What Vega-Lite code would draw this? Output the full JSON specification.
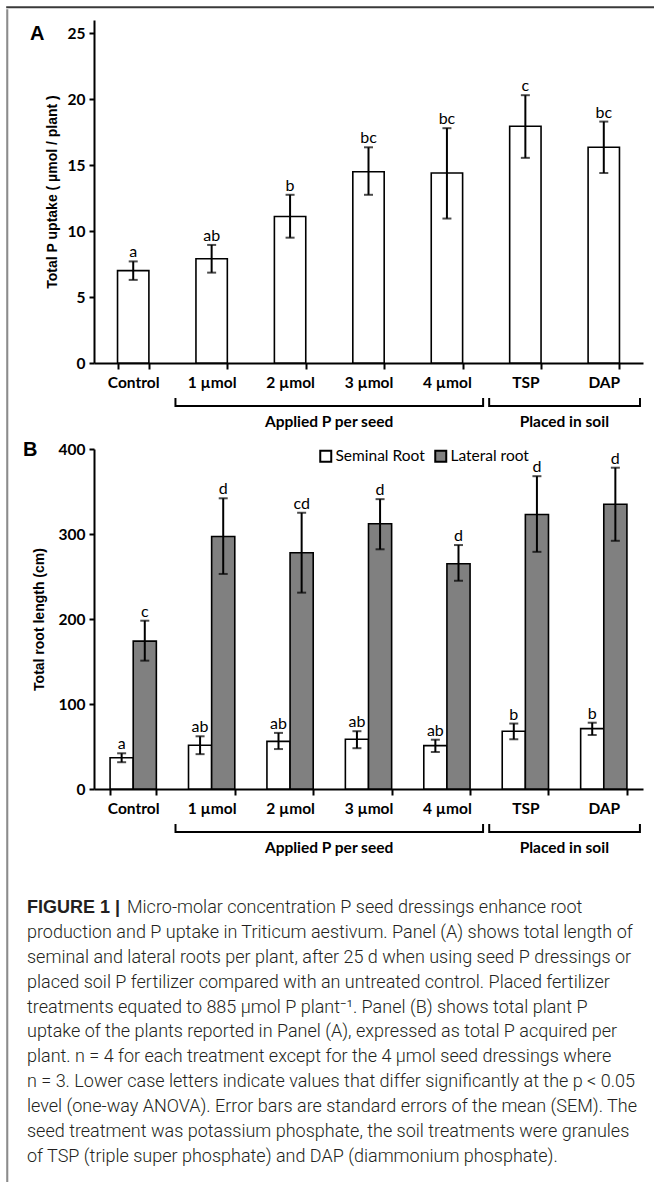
{
  "$schema": "https://vega.github.io/schema/vega-lite/v6.json",
  "background": "white",
  "padding": {"left": 6, "top": 6, "right": 0, "bottom": 0},
  "config": {
    "view": {"stroke": null},
    "font": "Lato",
    "axis": {"domainColor": "black", "tickColor": "black", "labelColor": "black", "titleColor": "black", "domainWidth": 2, "tickWidth": 2, "grid": false, "labelFont": "Lato", "labelFontWeight": "bold", "labelFontSize": 15.5, "titleFont": "Liberation Sans", "titleFontWeight": "bold", "titleFontSize": 14}
  },
  "datasets": {
    "uptake": [
      {"treatment": "Control", "uptake": 7.0, "lo": 6.3, "hi": 7.7, "letter": "a"},
      {"treatment": "1 µmol", "uptake": 7.9, "lo": 6.85, "hi": 8.95, "letter": "ab"},
      {"treatment": "2 µmol", "uptake": 11.1, "lo": 9.5, "hi": 12.75, "letter": "b"},
      {"treatment": "3 µmol", "uptake": 14.5, "lo": 12.75, "hi": 16.35, "letter": "bc"},
      {"treatment": "4 µmol", "uptake": 14.4, "lo": 10.95, "hi": 17.8, "letter": "bc"},
      {"treatment": "TSP", "uptake": 17.95, "lo": 15.55, "hi": 20.3, "letter": "c"},
      {"treatment": "DAP", "uptake": 16.35, "lo": 14.4, "hi": 18.3, "letter": "bc"}
    ],
    "roots": [
      {"treatment": "Control", "root": "Seminal Root", "length": 36.8, "lo": 31.5, "hi": 42, "letter": "a"},
      {"treatment": "1 µmol", "root": "Seminal Root", "length": 51.5, "lo": 41, "hi": 62, "letter": "ab"},
      {"treatment": "2 µmol", "root": "Seminal Root", "length": 56, "lo": 47, "hi": 66, "letter": "ab"},
      {"treatment": "3 µmol", "root": "Seminal Root", "length": 58.5, "lo": 48, "hi": 68, "letter": "ab"},
      {"treatment": "4 µmol", "root": "Seminal Root", "length": 51, "lo": 43.5, "hi": 58, "letter": "ab"},
      {"treatment": "TSP", "root": "Seminal Root", "length": 68, "lo": 58.5, "hi": 77, "letter": "b"},
      {"treatment": "DAP", "root": "Seminal Root", "length": 71, "lo": 63.5, "hi": 78, "letter": "b"},
      {"treatment": "Control", "root": "Lateral root", "length": 174, "lo": 151, "hi": 198, "letter": "c"},
      {"treatment": "1 µmol", "root": "Lateral root", "length": 297, "lo": 253, "hi": 342, "letter": "d"},
      {"treatment": "2 µmol", "root": "Lateral root", "length": 278, "lo": 231, "hi": 325, "letter": "cd"},
      {"treatment": "3 µmol", "root": "Lateral root", "length": 312, "lo": 282, "hi": 341, "letter": "d"},
      {"treatment": "4 µmol", "root": "Lateral root", "length": 265, "lo": 245, "hi": 287, "letter": "d"},
      {"treatment": "TSP", "root": "Lateral root", "length": 323, "lo": 279, "hi": 368, "letter": "d"},
      {"treatment": "DAP", "root": "Lateral root", "length": 335, "lo": 292, "hi": 378, "letter": "d"}
    ],
    "groups": [
      {"group": "Applied P per seed", "from": "1 µmol", "to": "4 µmol", "anchor": "2 µmol"},
      {"group": "Placed in soil", "from": "TSP", "to": "DAP", "anchor": "TSP"}
    ],
    "caption": [
      {"line": 1, "text": "Micro-molar concentration P seed dressings enhance root"},
      {"line": 2, "text": "production and P uptake in Triticum aestivum. Panel (A) shows total length of"},
      {"line": 3, "text": "seminal and lateral roots per plant, after 25 d when using seed P dressings or"},
      {"line": 4, "text": "placed soil P fertilizer compared with an untreated control. Placed fertilizer"},
      {"line": 5, "text": "treatments equated to 885 µmol P plant⁻¹. Panel (B) shows total plant P"},
      {"line": 6, "text": "uptake of the plants reported in Panel (A), expressed as total P acquired per"},
      {"line": 7, "text": "plant. n = 4 for each treatment except for the 4 µmol seed dressings where"},
      {"line": 8, "text": "n = 3. Lower case letters indicate values that differ significantly at the p < 0.05"},
      {"line": 9, "text": "level (one-way ANOVA). Error bars are standard errors of the mean (SEM). The"},
      {"line": 10, "text": "seed treatment was potassium phosphate, the soil treatments were granules"},
      {"line": 11, "text": "of TSP (triple super phosphate) and DAP (diammonium phosphate)."}
    ],
    "captionHead": [{"line": 1, "text": "FIGURE 1 |"}]
  },
  "spacing": 0,
  "vconcat": [
    {
      "width": 648, "height": 0.5,
      "view": {"stroke": "#3a3a3a", "strokeWidth": 1.6},
      "data": {"values": []},
      "mark": "text"
    },
    {
      "spacing": 13,
      "hconcat": [
        {
          "width": 0.5, "height": 1176,
          "view": {"stroke": "#8c8c8c", "strokeWidth": 1.6},
          "data": {"values": []},
          "mark": "text"
        },
        {
          "spacing": 9,
          "vconcat": [
            {
              "width": 0.5, "height": 0.5,
              "data": {"values": []},
              "mark": "text"
            },
            {
              "width": 549, "height": 343,
              "layer": [
                {
                  "data": {"name": "uptake"},
                  "mark": {"type": "bar", "fill": "white", "stroke": "black", "strokeWidth": 1.6},
                  "encoding": {
                    "x": {"field": "treatment", "type": "nominal", "sort": null,
                      "scale": {"domain": ["Control", "1 µmol", "2 µmol", "3 µmol", "4 µmol", "TSP", "DAP"], "paddingInner": 0.6, "paddingOuter": 0.3},
                      "axis": {"title": null, "labelAngle": 0, "tickBand": "extent", "tickSize": 6, "labelPadding": 6}},
                    "y": {"field": "uptake", "type": "quantitative",
                      "scale": {"domain": [0, 25]},
                      "axis": {"title": "Total P uptake ( µmol / plant )", "values": [0, 5, 10, 15, 20, 25], "tickSize": 5, "labelPadding": 4, "titlePadding": 8}}
                  }
                },
                {
                  "data": {"name": "uptake"},
                  "mark": {"type": "rule", "color": "black", "strokeWidth": 2},
                  "encoding": {"x": {"field": "treatment", "type": "nominal"}, "y": {"field": "lo", "type": "quantitative"}, "y2": {"field": "hi"}}
                },
                {
                  "data": {"name": "uptake"},
                  "mark": {"type": "tick", "color": "black", "thickness": 2, "size": 9},
                  "encoding": {"x": {"field": "treatment", "type": "nominal"}, "y": {"field": "lo", "type": "quantitative"}}
                },
                {
                  "data": {"name": "uptake"},
                  "mark": {"type": "tick", "color": "black", "thickness": 2, "size": 9},
                  "encoding": {"x": {"field": "treatment", "type": "nominal"}, "y": {"field": "hi", "type": "quantitative"}}
                },
                {
                  "data": {"name": "uptake"},
                  "mark": {"type": "text", "font": "Lato", "fontSize": 16, "color": "black", "baseline": "alphabetic", "dy": -4},
                  "encoding": {"x": {"field": "treatment", "type": "nominal"}, "y": {"field": "hi", "type": "quantitative"}, "text": {"field": "letter"}}
                },
                {
                  "data": {"name": "groups"},
                  "mark": {"type": "rule", "color": "black", "strokeWidth": 2, "yOffset": 43, "xOffset": -20.5, "x2Offset": 20.5},
                  "encoding": {"x": {"field": "from", "type": "nominal", "bandPosition": 0}, "x2": {"field": "to", "bandPosition": 1}, "y": {"datum": 0}}
                },
                {
                  "data": {"name": "groups"},
                  "mark": {"type": "rule", "color": "black", "strokeWidth": 2, "yOffset": 35, "y2Offset": 44, "xOffset": -20.5},
                  "encoding": {"x": {"field": "from", "type": "nominal", "bandPosition": 0}, "y": {"datum": 0}, "y2": {"datum": 0}}
                },
                {
                  "data": {"name": "groups"},
                  "mark": {"type": "rule", "color": "black", "strokeWidth": 2, "yOffset": 35, "y2Offset": 44, "xOffset": 20.5},
                  "encoding": {"x": {"field": "to", "type": "nominal", "bandPosition": 1}, "y": {"datum": 0}, "y2": {"datum": 0}}
                },
                {
                  "data": {"name": "groups"},
                  "mark": {"type": "text", "font": "Lato", "fontWeight": "bold", "fontSize": 15.5, "color": "black", "baseline": "middle", "dx": 39, "yOffset": 59},
                  "encoding": {"x": {"field": "anchor", "type": "nominal"}, "y": {"datum": 0}, "text": {"field": "group"}}
                },
                {
                  "data": {"values": [{"panel": "A"}]},
                  "mark": {"type": "text", "font": "Liberation Sans", "fontWeight": "bold", "fontSize": 20, "color": "black", "baseline": "middle", "dx": -96, "dy": 1},
                  "encoding": {"x": {"datum": "Control"}, "y": {"datum": 25}, "text": {"field": "panel"}}
                }
              ]
            },
            {
              "width": 549, "height": 340,
              "layer": [
                {
                  "data": {"name": "roots"},
                  "mark": {"type": "bar", "stroke": "black", "strokeWidth": 1.6},
                  "encoding": {
                    "x": {"field": "treatment", "type": "nominal", "sort": null,
                      "scale": {"domain": ["Control", "1 µmol", "2 µmol", "3 µmol", "4 µmol", "TSP", "DAP"], "paddingInner": 0.41, "paddingOuter": 0.205},
                      "axis": {"title": null, "labelAngle": 0, "tickBand": "extent", "tickSize": 6, "labelPadding": 6}},
                    "xOffset": {"field": "root", "type": "nominal", "scale": {"domain": ["Seminal Root", "Lateral root"]}},
                    "y": {"field": "length", "type": "quantitative",
                      "scale": {"domain": [0, 400]},
                      "axis": {"title": "Total root length (cm)", "values": [0, 100, 200, 300, 400], "tickSize": 5, "labelPadding": 4, "titlePadding": 12}},
                    "fill": {"field": "root", "type": "nominal",
                      "scale": {"domain": ["Seminal Root", "Lateral root"], "range": ["white", "#808080"]},
                      "legend": {"title": null, "orient": "none", "direction": "horizontal", "legendX": 311, "legendY": 441, "symbolType": "square", "symbolSize": 121, "symbolStrokeColor": "black", "symbolStrokeWidth": 2, "labelFont": "Lato", "labelFontSize": 15.5, "labelColor": "black", "labelOffset": 2, "columnPadding": 6, "symbolOpacity": 1}}
                  }
                },
                {
                  "data": {"name": "roots"},
                  "mark": {"type": "rule", "color": "black", "strokeWidth": 2},
                  "encoding": {"x": {"field": "treatment", "type": "nominal"}, "xOffset": {"field": "root", "type": "nominal"}, "y": {"field": "lo", "type": "quantitative"}, "y2": {"field": "hi"}}
                },
                {
                  "data": {"name": "roots"},
                  "mark": {"type": "tick", "color": "black", "thickness": 2, "size": 9},
                  "encoding": {"x": {"field": "treatment", "type": "nominal"}, "xOffset": {"field": "root", "type": "nominal"}, "y": {"field": "lo", "type": "quantitative"}}
                },
                {
                  "data": {"name": "roots"},
                  "mark": {"type": "tick", "color": "black", "thickness": 2, "size": 9},
                  "encoding": {"x": {"field": "treatment", "type": "nominal"}, "xOffset": {"field": "root", "type": "nominal"}, "y": {"field": "hi", "type": "quantitative"}}
                },
                {
                  "data": {"name": "roots"},
                  "mark": {"type": "text", "font": "Lato", "fontSize": 16, "color": "black", "baseline": "alphabetic", "dy": -4},
                  "encoding": {"x": {"field": "treatment", "type": "nominal"}, "xOffset": {"field": "root", "type": "nominal"}, "y": {"field": "hi", "type": "quantitative"}, "text": {"field": "letter"}}
                },
                {
                  "data": {"name": "groups"},
                  "mark": {"type": "rule", "color": "black", "strokeWidth": 2, "yOffset": 43, "xOffset": -13, "x2Offset": 13},
                  "encoding": {"x": {"field": "from", "type": "nominal", "bandPosition": 0}, "x2": {"field": "to", "bandPosition": 1}, "y": {"datum": 0}}
                },
                {
                  "data": {"name": "groups"},
                  "mark": {"type": "rule", "color": "black", "strokeWidth": 2, "yOffset": 35, "y2Offset": 44, "xOffset": -13},
                  "encoding": {"x": {"field": "from", "type": "nominal", "bandPosition": 0}, "y": {"datum": 0}, "y2": {"datum": 0}}
                },
                {
                  "data": {"name": "groups"},
                  "mark": {"type": "rule", "color": "black", "strokeWidth": 2, "yOffset": 35, "y2Offset": 44, "xOffset": 13},
                  "encoding": {"x": {"field": "to", "type": "nominal", "bandPosition": 1}, "y": {"datum": 0}, "y2": {"datum": 0}}
                },
                {
                  "data": {"name": "groups"},
                  "mark": {"type": "text", "font": "Lato", "fontWeight": "bold", "fontSize": 15.5, "color": "black", "baseline": "middle", "dx": 39, "yOffset": 59},
                  "encoding": {"x": {"field": "anchor", "type": "nominal"}, "y": {"datum": 0}, "text": {"field": "group"}}
                },
                {
                  "data": {"values": [{"panel": "B"}]},
                  "mark": {"type": "text", "font": "Liberation Sans", "fontWeight": "bold", "fontSize": 20, "color": "black", "baseline": "middle", "dx": -103, "dy": 1},
                  "encoding": {"x": {"datum": "Control"}, "y": {"datum": 400}, "text": {"field": "panel"}}
                }
              ]
            },
            {
              "width": 549, "height": 291,
              "layer": [
                {
                  "data": {"name": "captionHead"},
                  "mark": {"type": "text", "font": "Liberation Sans", "fontWeight": "bold", "fontSize": 18, "color": "#231f20", "align": "left", "baseline": "middle", "dx": -67},
                  "encoding": {
                    "x": {"datum": 0, "type": "quantitative", "scale": {"domain": [0, 1]}, "axis": null},
                    "y": {"field": "line", "type": "ordinal", "scale": {"type": "point", "padding": 0.84, "align": 1, "domain": [1, 2, 3, 4, 5, 6, 7, 8, 9, 10, 11]}, "axis": null},
                    "text": {"field": "text"}
                  }
                },
                {
                  "data": {"name": "caption"},
                  "transform": [{"filter": "datum.line === 1"}],
                  "mark": {"type": "text", "font": "Roboto", "fontWeight": 300, "fontSize": 18, "color": "#231f20", "align": "left", "baseline": "middle", "dx": 33},
                  "encoding": {
                    "x": {"datum": 0, "type": "quantitative"},
                    "y": {"field": "line", "type": "ordinal"},
                    "text": {"field": "text"}
                  }
                },
                {
                  "data": {"name": "caption"},
                  "transform": [{"filter": "datum.line !== 1"}],
                  "mark": {"type": "text", "font": "Roboto", "fontWeight": 300, "fontSize": 18, "color": "#231f20", "align": "left", "baseline": "middle", "dx": -67},
                  "encoding": {
                    "x": {"datum": 0, "type": "quantitative"},
                    "y": {"field": "line", "type": "ordinal"},
                    "text": {"field": "text"}
                  }
                }
              ]
            }
          ]
        }
      ]
    }
  ]
}
